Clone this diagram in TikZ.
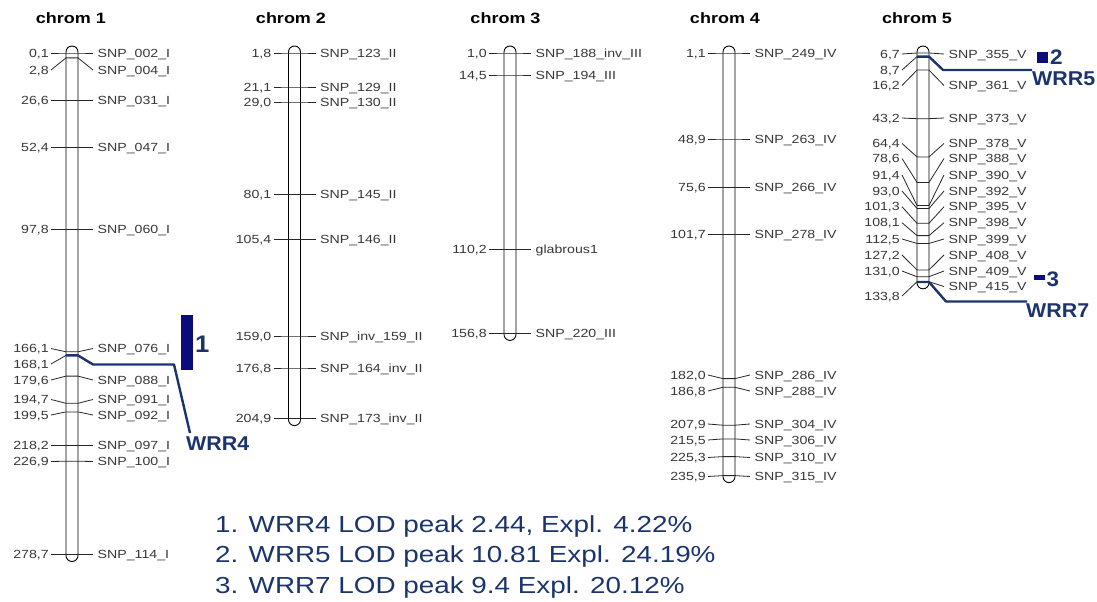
\documentclass[tikz,border=0pt]{standalone}
\usepackage{fontspec}
\setmainfont{Liberation Sans}
\newfontfamily\labfont[FakeStretch=1.2]{Liberation Sans}
\newfontfamily\wrrfont[FakeStretch=1.07]{Liberation Sans}
\definecolor{qcol}{RGB}{28,52,110}
\definecolor{boxcol}{RGB}{12,12,120}
\definecolor{labcol}{RGB}{55,55,55}
\tikzset{
  lab/.style={font=\labfont\fontsize{11.8}{13}\selectfont, text=labcol, inner sep=0pt},
  ttl/.style={font=\labfont\bfseries\fontsize{15}{17}\selectfont, inner sep=0pt, anchor=base},
  tickline/.style={line width=0.8pt, black!85},
  chr/.style={line width=0.9pt, black, rounded corners=6pt, fill=white},
  qtl/.style={line width=2.4pt, qcol, line join=round},
  wrr/.style={font=\wrrfont\bfseries\fontsize{20}{22}\selectfont, text=qcol, inner sep=0pt, anchor=base west},
  leg/.style={font=\labfont\fontsize{23.2}{26}\selectfont, text=qcol, inner sep=0pt, anchor=base west},
}
% c, y on chromosome, y of left label, left text, y of right label, right text, id
\newcommand\mk[7]{%
  \draw[tickline] (#1-21,#3) -- (#1-6,#2) -- (#1+6,#2) -- (#1+21,#5);
  \node[lab,anchor=base east] (#7L) at (#1-23,#3+4.2) {#4};
  \node[lab,anchor=base west] (#7R) at (#1+25.5,#5+4.2) {#6};
}
% left label only (QTL peak position)
\newcommand\mkl[5]{%
  \draw[tickline] (#1-21,#3) -- (#1-6,#2);
  \node[lab,anchor=base east] (#5L) at (#1-23,#3+4.2) {#4};
}
\begin{document}
\begin{tikzpicture}[x=1pt,y=-1pt]
\useasboundingbox (0,0) rectangle (1097,602);

% titles
\node[ttl] (t1) at (71,24) {chrom 1};
\node[ttl] (t2) at (291,24) {chrom 2};
\node[ttl] (t3) at (505.5,24) {chrom 3};
\node[ttl] (t4) at (725,24) {chrom 4};
\node[ttl] (t5) at (917,24) {chrom 5};

% chromosome bodies
\draw[chr] (66,46) rectangle (78,561.5);
\draw[chr] (288.5,46) rectangle (300.5,425.6);
\draw[chr] (504,46) rectangle (516,340.4);
\draw[chr] (723,46) rectangle (735,482.6);
\draw[chr] (917,46) rectangle (929,288.8);

% chrom 1
\mk{72}{53}{53}{0,1}{53}{SNP\_002\_I}{a1}
\mk{72}{57.9}{70}{2,8}{70}{SNP\_004\_I}{a2}
\mk{72}{100.7}{100.7}{26,6}{100.7}{SNP\_031\_I}{a3}
\mk{72}{147.1}{147.1}{52,4}{147.1}{SNP\_047\_I}{a4}
\mk{72}{228.9}{228.9}{97,8}{228.9}{SNP\_060\_I}{a5}
\mk{72}{351.8}{348.5}{166,1}{348.5}{SNP\_076\_I}{a6}
\mkl{72}{355.4}{364}{168,1}{a7}
\mk{72}{376.1}{380}{179,6}{380}{SNP\_088\_I}{a8}
\mk{72}{403.3}{399.5}{194,7}{399.5}{SNP\_091\_I}{a9}
\mk{72}{411.9}{415}{199,5}{415}{SNP\_092\_I}{a10}
\mk{72}{445.5}{445.5}{218,2}{445.5}{SNP\_097\_I}{a11}
\mk{72}{461.2}{461.5}{226,9}{461.5}{SNP\_100\_I}{a12}
\mk{72}{554.5}{554.5}{278,7}{554.5}{SNP\_114\_I}{a13}

% chrom 2
\mk{294.5}{53}{53}{1,8}{53}{SNP\_123\_II}{b1}
\mk{294.5}{87}{87}{21,1}{87}{SNP\_129\_II}{b2}
\mk{294.5}{102}{102}{29,0}{102}{SNP\_130\_II}{b3}
\mk{294.5}{193.9}{193.9}{80,1}{193.9}{SNP\_145\_II}{b4}
\mk{294.5}{239.5}{239.5}{105,4}{239.5}{SNP\_146\_II}{b5}
\mk{294.5}{336}{336}{159,0}{336}{SNP\_inv\_159\_II}{b6}
\mk{294.5}{368}{368}{176,8}{368}{SNP\_164\_inv\_II}{b7}
\mk{294.5}{418.6}{418.6}{204,9}{418.6}{SNP\_173\_inv\_II}{b8}

% chrom 3
\mk{510}{53}{53}{1,0}{53}{SNP\_188\_inv\_III}{c1}
\mk{510}{75}{75}{14,5}{75}{SNP\_194\_III}{c2}
\mk{510}{249.6}{249.6}{110,2}{249.6}{glabrous1}{c3}
\mk{510}{333.4}{333.4}{156,8}{333.4}{SNP\_220\_III}{c4}

% chrom 4
\mk{729}{53}{53}{1,1}{53}{SNP\_249\_IV}{d1}
\mk{729}{139}{139}{48,9}{139}{SNP\_263\_IV}{d2}
\mk{729}{187.1}{187.1}{75,6}{187.1}{SNP\_266\_IV}{d3}
\mk{729}{234.1}{234.1}{101,7}{234.1}{SNP\_278\_IV}{d4}
\mk{729}{378.6}{375}{182,0}{375}{SNP\_286\_IV}{d5}
\mk{729}{387.3}{391}{186,8}{391}{SNP\_288\_IV}{d6}
\mk{729}{425.2}{424}{207,9}{424}{SNP\_304\_IV}{d7}
\mk{729}{438.9}{440}{215,5}{440}{SNP\_306\_IV}{d8}
\mk{729}{456.6}{457.5}{225,3}{457.5}{SNP\_310\_IV}{d9}
\mk{729}{475.6}{476.5}{235,9}{476.5}{SNP\_315\_IV}{d10}

% chrom 5
\mk{923}{53}{54}{6,7}{54}{SNP\_355\_V}{e1}
\mkl{923}{56.6}{70}{8,7}{e2}
\mk{923}{70.1}{85.5}{16,2}{85.5}{SNP\_361\_V}{e3}
\mk{923}{118.7}{118}{43,2}{118}{SNP\_373\_V}{e4}
\mk{923}{156.9}{143.5}{64,4}{143.5}{SNP\_378\_V}{e5}
\mk{923}{182.4}{158.5}{78,6}{158.5}{SNP\_388\_V}{e6}
\mk{923}{205.5}{175}{91,4}{175}{SNP\_390\_V}{e7}
\mk{923}{208.4}{191}{93,0}{191}{SNP\_392\_V}{e8}
\mk{923}{223.3}{206.7}{101,3}{206.7}{SNP\_395\_V}{e9}
\mk{923}{235.6}{222.7}{108,1}{222.7}{SNP\_398\_V}{e10}
\mk{923}{243.4}{239}{112,5}{239}{SNP\_399\_V}{e11}
\mk{923}{269.9}{255}{127,2}{255}{SNP\_408\_V}{e12}
\mk{923}{276.7}{271}{131,0}{271}{SNP\_409\_V}{e13}
\mk{923}{281.8}{296}{133,8}{286.5}{SNP\_415\_V}{e14}

% QTL boxes and numbers
\fill[boxcol] (180.7,315) rectangle (193.3,370);
\node[wrr, font=\wrrfont\bfseries\fontsize{24}{26}\selectfont] (n1) at (195,352.5) {1};
\fill[boxcol] (1036.7,51.7) rectangle (1047.7,62.7);
\node[wrr, font=\wrrfont\bfseries\fontsize{21}{23}\selectfont] (n2) at (1050,65) {2};
\fill[boxcol] (1034,275) rectangle (1045,280);
\node[wrr, font=\wrrfont\bfseries\fontsize{21}{23}\selectfont] (n3) at (1046.5,286.7) {3};

% QTL labels
\node[wrr] (w4) at (186,450) {WRR4};
\node[wrr] (w5) at (1032,85) {WRR5};
\node[wrr] (w7) at (1026,317) {WRR7};

% QTL connectors
\coordinate (q4a) at (66,355.4);
\coordinate (q4b) at (78,355.4);
\coordinate (q4c) at (93,364.5);
\coordinate (q4d) at (174,364.5);
\coordinate (q4e) at (190,433);
\draw[qtl] (q4a) -- (q4b) -- (q4c) -- (q4d) -- (q4e);
\coordinate (q5a) at (917,56.6);
\coordinate (q5b) at (929,56.6);
\coordinate (q5c) at (943,70);
\coordinate (q5d) at (1032,70);
\draw[qtl] (q5a) -- (q5b) -- (q5c) -- (q5d);
\coordinate (q7a) at (917,282);
\coordinate (q7b) at (929,282);
\coordinate (q7c) at (946,301.5);
\coordinate (q7d) at (1027,301.5);
\draw[qtl] (q7a) -- (q7b) -- (q7c) -- (q7d);

% legend
\node[leg] (l1) at (215,532) {1. WRR4 LOD peak 2.44, Expl. 4.22\%};
\node[leg] (l2) at (215,562) {2. WRR5 LOD peak 10.81 Expl. 24.19\%};
\node[leg] (l3) at (215,593) {3. WRR7 LOD peak 9.4 Expl. 20.12\%};
\end{tikzpicture}
\end{document}
